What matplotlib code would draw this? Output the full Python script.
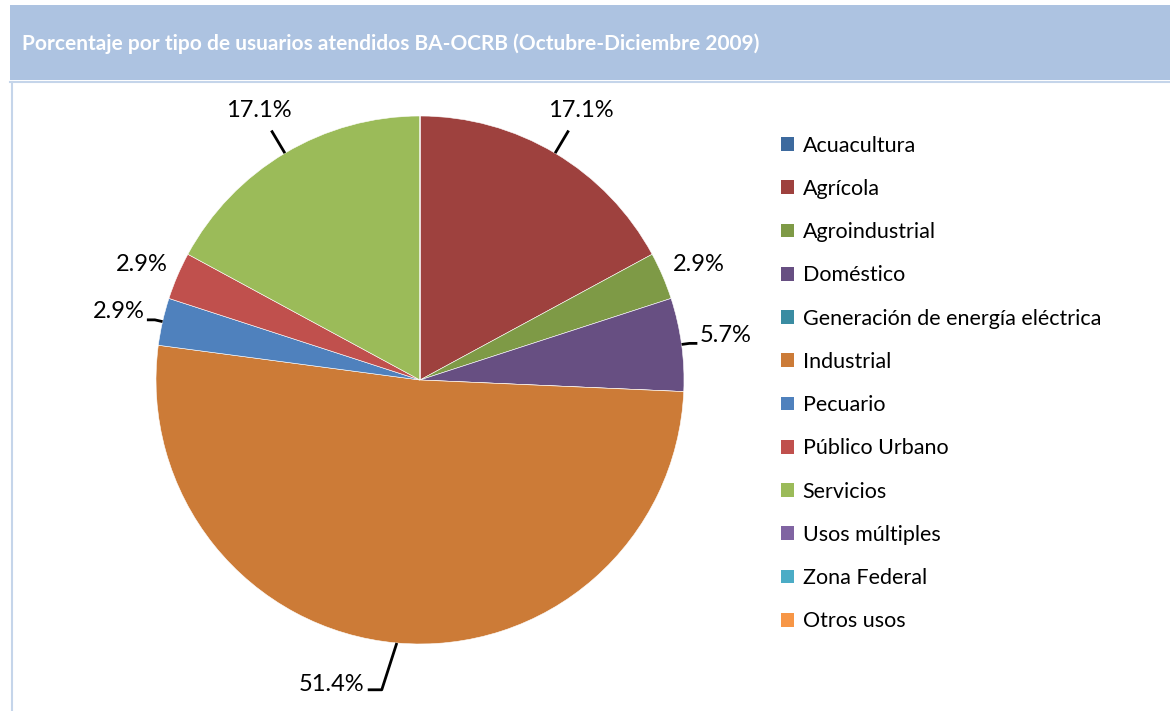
import numpy as np
import matplotlib
matplotlib.use("Agg")
import matplotlib.pyplot as plt
from matplotlib.patches import Rectangle, Patch
from matplotlib.lines import Line2D

# ---- data ----
title = "Porcentaje por tipo de usuarios atendidos BA-OCRB (Octubre-Diciembre 2009)"
categories = ["Acuacultura", "Agrícola", "Agroindustrial", "Doméstico",
              "Generación de energía eléctrica", "Industrial", "Pecuario",
              "Público Urbano", "Servicios", "Usos múltiples", "Zona Federal",
              "Otros usos"]
values = [0.0, 17.1, 2.9, 5.7, 0.0, 51.4, 2.9, 2.9, 17.1, 0.0, 0.0, 0.0]
colors = ["#3D6A9E", "#9E413E", "#7E9A46", "#674F82", "#3A8CA2", "#CC7B37",
          "#4F81BD", "#C0504D", "#9BBB59", "#8064A2", "#4BACC6", "#F79646"]
# which labels get a leader line (style)
leaders = [False, True, False, True, False, True, True, False, True, False, False, False]

plt.rcParams['font.family'] = ['Lato', 'DejaVu Sans']

W, H = 1170, 711
fig = plt.figure(figsize=(W / 100, H / 100), dpi=100)
fig.patch.set_facecolor("white")

# title bar
bar_col = "#ADC3E1"
fig.add_artist(Rectangle((10 / W, (H - 80) / H), 1 - 10 / W, 75 / H,
                         transform=fig.transFigure, facecolor=bar_col,
                         edgecolor="none", zorder=0))
fig.add_artist(Line2D([10 / W, 1], [(H - 82) / H, (H - 82) / H],
                      transform=fig.transFigure, color="#C5D5EA", lw=1.5))
fig.add_artist(Line2D([12 / W, 12 / W], [0, (H - 82) / H],
                      transform=fig.transFigure, color="#C5D5EA", lw=1.5))
fig.text(22 / W, (H - 44) / H, title, color="white", fontsize=15,
         fontweight="bold", va="center", ha="left")

# pie axes: center (420,380) px, radius 264 px
R = 264
lim = 1.3
side = 2 * lim * R
cx, cy = 420, 380
ax = fig.add_axes([(cx - side / 2) / W, ((H - cy) - side / 2) / H, side / W, side / H])
wedges, _ = ax.pie(values, colors=colors, startangle=90, counterclock=False,
                   radius=1.0, wedgeprops=dict(edgecolor="white", linewidth=0.4))
ax.set_xlim(-lim, lim)
ax.set_ylim(-lim, lim)
ax.set_aspect("equal")
ax.axis("off")

FS = 17
lkw = dict(color="black", lw=2.0, solid_capstyle="butt", clip_on=False)
for w, v, lead in zip(wedges, values, leaders):
    if v <= 0:
        continue
    ang = np.deg2rad((w.theta1 + w.theta2) / 2)
    c, s = np.cos(ang), np.sin(ang)
    lbl = f"{v:.1f}%"
    if abs(c) > 0.85:
        # side labels
        x1, y1 = c * 1.03, s * 1.03
        x2 = x1 + np.sign(c) * 0.03
        if lead:
            ax.plot([c, x1, x2], [s, y1, y1], **lkw)
            dx = 0.01
        else:
            dx = -0.02
        ax.text(x2 + np.sign(c) * dx, y1 + 0.03, lbl, fontsize=FS,
                ha="left" if c > 0 else "right", va="center", clip_on=False)
    elif s > 0:
        x1, y1 = c * 1.1, s * 1.1
        if lead:
            ax.plot([c, x1], [s, y1], **lkw)
        ax.text(c * 1.19, s * 1.19, lbl, fontsize=FS,
                ha="center", va="center", clip_on=False)
    else:
        # bottom label: bent leader, text to the left
        x1, y1 = c - 0.057, s * 1.178
        x2 = x1 - 0.053
        if lead:
            ax.plot([c, x1, x2], [s, y1, y1], **lkw)
        ax.text(x2 - 0.012, y1 + 0.02, lbl, fontsize=FS,
                ha="right", va="center", clip_on=False)

handles = [Patch(facecolor=col, edgecolor="none") for col in colors]
fig.legend(handles, categories, loc="upper left",
           bbox_to_anchor=(772 / W, (H - 127) / H), frameon=False,
           fontsize=15.5, handlelength=0.6, handleheight=0.6,
           handletextpad=0.42, labelspacing=1.08, borderaxespad=0)

fig.savefig("out.png", dpi=100)
